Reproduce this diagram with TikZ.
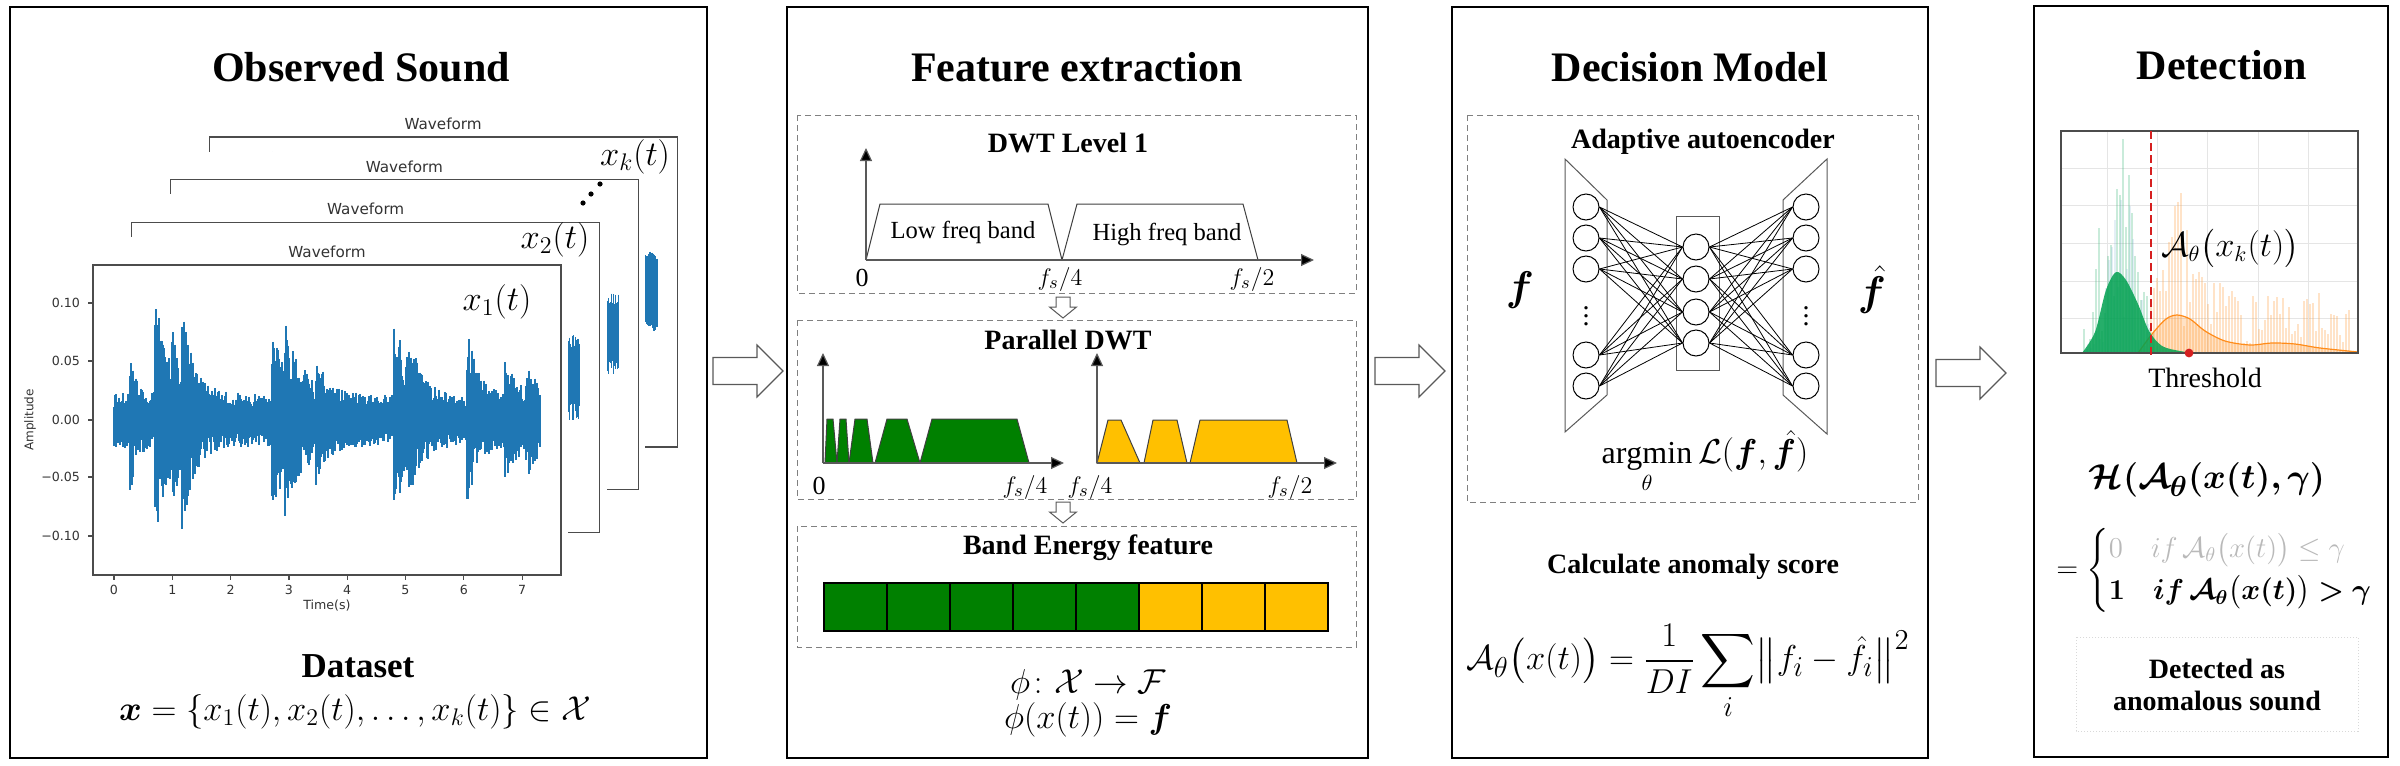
\documentclass[tikz,border=0pt]{standalone}
\usepackage{amsmath}
\usepackage{amssymb}
\usepackage{bm}
\usepackage{fontspec}
\setmainfont{Liberation Serif}
\newfontfamily\plotfont{DejaVu Sans}
\usetikzlibrary{arrows.meta}

\definecolor{wavblue}{HTML}{1F77B4}
\definecolor{dwtgreen}{HTML}{008000}
\definecolor{dwtyellow}{HTML}{FFC000}
\definecolor{kdegreen}{HTML}{00A050}
\definecolor{kdeorange}{HTML}{FF8C1A}
\definecolor{threshred}{HTML}{D62020}

\tikzset{
  panel/.style={draw, line width=1.3pt},
  subbox/.style={draw=gray, densely dashed, line width=0.5pt},
  ptitle/.style={font=\fontsize{21}{25}\selectfont\bfseries},
  stitle/.style={font=\fontsize{14}{17}\selectfont\bfseries},
  axisline/.style={draw=gray!70!black, line width=0.6pt, -{Triangle[length=6.5pt,width=6pt,fill=black]}},
  band/.style={draw=gray!50!black, line width=0.5pt},
  neuron/.style={circle, draw, line width=0.5pt, minimum size=13pt, inner sep=0pt},
  layer/.style={draw=gray!70!black, line width=0.5pt},
  wavframe/.style={draw=gray!60!black, line width=0.6pt},
  ticklab/.style={font=\plotfont\fontsize{6.3}{7}\selectfont, text=black!80},
  mathlab/.style={font=\fontsize{18}{21}\selectfont},
}

% hollow block arrow between panels
\newcommand{\blockarrow}[2]{%
  \draw[line width=0.6pt, gray!70!black, fill=white] (#1,{#2-13.5}) -- ({#1+44},{#2-13.5}) -- ({#1+44},{#2-26})
    -- ({#1+70},#2) -- ({#1+44},{#2+26}) -- ({#1+44},{#2+13.5}) -- (#1,{#2+13.5}) -- cycle;}
% small hollow arrow pointing down
\newcommand{\downarrowsmall}[2]{%
  \draw[line width=0.5pt, gray!70!black, fill=white] ({#1-7},#2) -- ({#1+7},#2) -- ({#1+7},{#2+10})
    -- ({#1+13.5},{#2+10}) -- (#1,{#2+21}) -- ({#1-13.5},{#2+10}) -- ({#1-7},{#2+10}) -- cycle;}

\begin{document}
\begin{tikzpicture}[x=0.5pt, y=-0.5pt,
  declare function={env(\x)=0.024-0.003*\x/7
    +0.045*(\x>0.27)*exp(-abs(\x-0.27)*9)
    +0.085*(\x>0.70)*exp(-abs(\x-0.70)*4)
    +0.035*(\x>0.98)*exp(-abs(\x-0.98)*7)
    +0.060*(\x>1.15)*exp(-abs(\x-1.15)*5)
    +0.060*(\x>2.70)*exp(-abs(\x-2.70)*3)
    +0.040*(\x>2.92)*exp(-abs(\x-2.92)*4)
    +0.030*(\x>3.45)*exp(-abs(\x-3.45)*6)
    +0.085*(\x>4.80)*exp(-abs(\x-4.80)*4)
    +0.030*(\x>5.05)*exp(-abs(\x-5.05)*6)
    +0.060*(\x>6.05)*exp(-abs(\x-6.05)*5)
    +0.035*(\x>6.70)*exp(-abs(\x-6.70)*5)
    +0.030*(\x>7.05)*exp(-abs(\x-7.05)*5);}]

\useasboundingbox (0,0) rectangle (2400,766);
\pgfmathsetseed{17}

% Draw the four panels
\draw[panel] (10,7) rectangle (707,758);
\draw[panel] (787,7) rectangle (1368,758);
\draw[panel] (1452,7) rectangle (1928,758);
\draw[panel] (2034,6) rectangle (2388,757);

\node[ptitle] (t1) at (361,67) {Observed Sound};
\node[ptitle] (t2) at (1077,67) {Feature extraction};
\node[ptitle] (t3) at (1690,67) {Decision Model};
\node[ptitle] (t4) at (2222,65) {Detection};

% Arrows between panels
\blockarrow{713}{371}
\blockarrow{1375}{371}
\blockarrow{1936}{373}

%%% Panel 1: stacked waveforms
\foreach \k in {3,2,1}{
  \pgfmathsetmacro\dx{\k*38.7}
  \pgfmathsetmacro\dy{-\k*42.7}
  \fill[white] ({33+\dx},{237+\dy}) rectangle ({568+\dx},{620+\dy});
  \draw[wavframe] ({93+\dx},{265+\dy}) rectangle ({561+\dx},{575+\dy});
  \node[ticklab, font=\plotfont\fontsize{7.6}{9}\selectfont] at ({327+\dx},{252+\dy}) {Waveform};
  \draw[wavblue, line width=0.75pt] ({156+\dx},{280+\dy}) -- ({156+\dx},{420+\dy});
  \foreach \j in {0,...,14}{
    \pgfmathsetmacro\hh{30+12*rnd}
    \pgfmathsetmacro\hl{\hh*(0.8+0.3*rnd)}
    \draw[wavblue, line width=0.75pt] ({527+\dx+\j},{420+\dy-\hh}) -- ({527+\dx+\j},{420+\dy+\hl});
  }
}

% front waveform
\fill[white] (33,237) rectangle (568,620);
\node[ticklab, font=\plotfont\fontsize{7.6}{9}\selectfont] at (327,252) {Waveform};
\foreach \i in {0,...,426}{
  \pgfmathsetmacro\tm{\i/58.3}
  \pgfmathsetmacro\ee{env(\tm)*1160}
  \pgfmathsetmacro\yu{420-\ee*(0.45+0.55*rnd)}
  \pgfmathsetmacro\yd{420+\ee*(0.45+0.55*rnd)}
  \draw[wavblue, line width=0.75pt] (114+\i,\yu) -- (114+\i,\yd);
}
\draw[wavframe] (93,265) rectangle (561,575);
\foreach \v/\y in {0.10/303, 0.05/361, 0.00/420, −0.05/477, −0.10/536}{
  \draw[wavframe] (93,\y) -- (88,\y);
  \node[ticklab, anchor=east] at (87,\y) {\v};
}
\foreach \v in {0,...,7}{
  \draw[wavframe] (114+58.3*\v,575) -- (114+58.3*\v,580);
  \node[ticklab] at (114+58.3*\v,590) {\v};
}
\node[ticklab, rotate=90, font=\plotfont\fontsize{6}{7}\selectfont] at (30,420) {Amplitude};
\node[ticklab] at (327,606) {Time(s)};

\node[mathlab] (x1) at (497,302) {$x_1(t)$};
\node[mathlab] (x2) at (555,240) {$x_2(t)$};
\node[mathlab] (xk) at (635,157) {$x_k(t)$};
\foreach \px/\py in {583/203, 591/194, 600/184}
  \fill (\px,\py) circle (1.3pt);

\node[font=\fontsize{17.5}{21}\selectfont\bfseries] (ds) at (358,666) {Dataset};
\node[mathlab] (dsf) at (355,712) {$\bm{x} = \{x_1(t), x_2(t), \dots, x_k(t)\} \in \mathcal{X}$};

%%% Panel 2: feature extraction
\draw[subbox] (797,115) rectangle (1356,293);
\draw[subbox] (797,320) rectangle (1356,499);
\draw[subbox] (797,526) rectangle (1356,647);
\downarrowsmall{1063}{297}
\downarrowsmall{1063}{502}

\node[stitle] (lv1) at (1068,143) {DWT Level 1};
\draw[band, fill=white] (866,260) -- (880,204) -- (1048,204) -- (1062,260);
\draw[band, fill=white] (1062,260) -- (1077,204) -- (1243,204) -- (1258,260);
\draw[axisline] (866,260) -- (866,148);
\draw[axisline] (866,260) -- (1314,260);
\node[font=\fontsize{12.3}{15}\selectfont] (lowb) at (963,232) {Low freq band};
\node[font=\fontsize{12.3}{15}\selectfont] (highb) at (1167,234) {High freq band};
\node[font=\fontsize{13}{15}\selectfont] at (862,278) {0};
\node[font=\fontsize{13}{15}\selectfont] at (1060,279) {$f_s/4$};
\node[font=\fontsize{13}{15}\selectfont] at (1252,279) {$f_s/2$};

\node[stitle] (pdwt) at (1068,340) {Parallel DWT};
\foreach \a/\b/\c/\d in {825/827/833/837, 837/840/846/849, 849/855/867/873, 875/887/907/920, 920/932/1017/1029}
  \draw[band, fill=dwtgreen] (\a,463) -- (\b,419) -- (\c,419) -- (\d,463) -- cycle;
\foreach \a/\b/\c/\d in {1097/1108/1121/1140, 1144/1153/1177/1187, 1190/1200/1287/1297}
  \draw[band, fill=dwtyellow] (\a,463) -- (\b,420) -- (\c,420) -- (\d,463) -- cycle;
\draw[axisline] (823,463) -- (823,353);
\draw[axisline] (823,463) -- (1064,463);
\draw[axisline] (1097,463) -- (1097,353);
\draw[axisline] (1097,463) -- (1337,463);
\node[font=\fontsize{13}{15}\selectfont] at (819,486) {0};
\node[font=\fontsize{13}{15}\selectfont] at (1025,487) {$f_s/4$};
\node[font=\fontsize{13}{15}\selectfont] at (1090,487) {$f_s/4$};
\node[font=\fontsize{13}{15}\selectfont] at (1290,487) {$f_s/2$};

\node[stitle] (bef) at (1088,548) {Band Energy feature};
\foreach \i in {0,...,7}{
  \pgfmathsetmacro\cc{ifthenelse(\i<5,"dwtgreen","dwtyellow")}
  \draw[line width=1.2pt, fill=\cc] (824+63*\i,583) rectangle (887+63*\i,631);
}
\node[mathlab] (phi1) at (1088,685) {$\phi\colon \mathcal{X} \to \mathcal{F}$};
\node[mathlab] (phi2) at (1088,720) {$\phi(x(t)) = \bm{f}$};

%%% Panel 3: decision model
\draw[subbox] (1467,115) rectangle (1918,502);
\node[stitle] (ae) at (1703,142) {Adaptive autoencoder};
\draw[layer] (1565,159) -- (1607,200) -- (1607,395) -- (1565,432) -- cycle;
\draw[layer] (1827,159) -- (1783,200) -- (1783,395) -- (1827,434) -- cycle;
\draw[layer] (1676,216) rectangle (1719,370);
\foreach \n/\y in {1/207, 2/238, 3/269, 4/355, 5/386}{
  \node[neuron] (l\n) at (1586,\y) {};
  \node[neuron] (r\n) at (1806,\y) {};
}
\foreach \n/\y in {1/247, 2/279, 3/312, 4/343}
  \node[neuron] (m\n) at (1696,\y) {};
\node[font=\fontsize{14}{16}\selectfont] at (1586,310) {$\vdots$};
\node[font=\fontsize{14}{16}\selectfont] at (1806,310) {$\vdots$};
\foreach \i in {1,...,5}
  \foreach \j in {1,...,4}{
    \draw[line width=0.4pt] (l\i.east) -- (m\j.west);
    \draw[line width=0.4pt] (m\j.east) -- (r\i.west);
  }
\node[font=\fontsize{20}{24}\selectfont] (fin) at (1520,290) {$\bm{f}$};
\node[font=\fontsize{20}{24}\selectfont] (fout) at (1872,290) {$\hat{\bm{f}}$};
\node[font=\fontsize{16}{19}\selectfont] (loss) at (1705,462) {$\displaystyle\mathop{\mathrm{argmin}}\limits_{\theta} \mathcal{L}(\bm{f},\hat{\bm{f}})$};

\node[stitle] (cas) at (1693,567) {Calculate anomaly score};
\node[font=\fontsize{19}{23}\selectfont] (score) at (1688,672) {$\displaystyle \mathcal{A}_\theta\bigl(x(t)\bigr) = \frac{1}{DI}\sum_i \bigl\|f_i - \hat{f}_i\bigr\|^2$};

%%% Panel 4: detection
\begin{scope}
  \clip (2061,131) rectangle (2358,353);
  \foreach \gx in {2107, 2157, 2207, 2258, 2308}
    \draw[gray!20, line width=0.5pt] (\gx,131) -- (\gx,353);
  \foreach \gy in {168, 205, 243, 281, 318}
    \draw[gray!20, line width=0.5pt] (2061,\gy) -- (2358,\gy);
  % green and blue histogram bars
  \foreach \i in {0,...,23}{
    \pgfmathsetmacro\bx{2083+3*\i}
    \pgfmathsetmacro\bh{(20+230*rnd)*exp(-((\bx-2118)/24)^2)}
    \fill[kdegreen!70, opacity=0.3] (\bx,353) rectangle ({\bx+2.4},{353-\bh});
    \pgfmathsetmacro\bb{(10+150*rnd)*exp(-((\bx-2122)/22)^2)}
    \fill[wavblue!60, opacity=0.2] ({\bx+1},353) rectangle ({\bx+2.6},{353-\bb});
  }
  % orange histogram bars
  \foreach \i in {0,...,66}{
    \pgfmathsetmacro\bx{2150+3*\i}
    \pgfmathsetmacro\bh{10+50*rnd+120*rnd*exp(-((\bx-2180)/28)^2)}
    \fill[kdeorange!80, opacity=0.3] (\bx,353) rectangle ({\bx+2.4},{353-\bh});
  }
  % density curves
  \fill[kdeorange, opacity=0.25] plot[smooth] coordinates {(2138,353) (2152,334) (2166,319) (2177,315) (2190,319) (2205,331) (2225,341) (2250,345) (2272,343) (2295,344) (2320,348) (2358,352)} -- cycle;
  \draw[kdeorange, line width=0.6pt] plot[smooth] coordinates {(2138,353) (2152,334) (2166,319) (2177,315) (2190,319) (2205,331) (2225,341) (2250,345) (2272,343) (2295,344) (2320,348) (2358,352)};
  \fill[kdegreen, opacity=0.85] plot[smooth] coordinates {(2082,353) (2095,332) (2106,290) (2116,272) (2126,280) (2138,304) (2149,331) (2162,346) (2180,351) (2195,353)} -- cycle;
\end{scope}
\draw[gray!60!black, line width=0.6pt] (2061,131) rectangle (2358,353);
\draw[threshred, line width=1pt, dash pattern=on 4pt off 2pt] (2151,131) -- (2151,357);
\fill[threshred] (2189,353) circle (2.2pt);
\node[font=\fontsize{16}{19}\selectfont] (ak) at (2230,248) {$\mathcal{A}_\theta\bigl(x_k(t)\bigr)$};
\node[font=\fontsize{14}{17}\selectfont] (thr) at (2205,378) {Threshold};

\node[font=\fontsize{19}{23}\selectfont] (hf) at (2207,480) {$\bm{\mathcal{H}(\mathcal{A}_\theta(x(t),\gamma)}$};
\node[anchor=west, font=\fontsize{14}{17}\selectfont, inner sep=0pt] (hcase) at (2056,570)
  {$=\left\{\renewcommand{\arraystretch}{1.25}\begin{array}{@{}l@{}}
    \textcolor{gray!55}{0\quad if\,\mathcal{A}_\theta\bigl(x(t)\bigr) \le \gamma}\\
    \bm{1\quad if\,\mathcal{A}_\theta\bigl(x(t)\bigr) > \gamma}
  \end{array}\right.$};
\draw[gray!30, densely dotted, line width=0.5pt] (2076,637) rectangle (2358,731);
\node[stitle, align=center] (det) at (2217,685) {Detected as\\[-1pt]anomalous sound};

\end{tikzpicture}
\end{document}
